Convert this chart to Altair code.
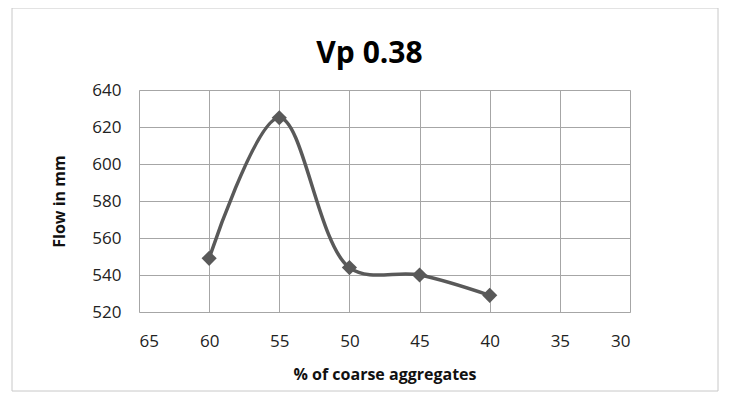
import altair as alt
import pandas as pd

coarse_pct = [60, 55, 50, 45, 40]
flow_mm = [549, 625, 544, 540, 529]
x_ticks = [65, 60, 55, 50, 45, 40, 35, 30]
y_ticks = [520, 540, 560, 580, 600, 620, 640]

df = pd.DataFrame({"pct": coarse_pct, "flow": flow_mm})

FONT = "Open Sans"
LINE = "#595959"

x = alt.X("pct:Q", title="% of coarse aggregates",
          scale=alt.Scale(domain=[30, 65], reverse=True, nice=False, zero=False),
          axis=alt.Axis(values=x_ticks, ticks=False, labelPadding=21, titlePadding=17,
                        gridColor="#a6a6a6", domain=False, labelFont=FONT, labelFontSize=17,
                        labelColor="#222222",
                        titleFont=FONT, titleFontSize=16, titleFontWeight="bold", titleColor="#111111"))
y = alt.Y("flow:Q", title="Flow in mm",
          scale=alt.Scale(domain=[520, 640], nice=False, zero=False),
          axis=alt.Axis(values=y_ticks, ticks=False, labelPadding=18, titlePadding=24,
                        gridColor="#a6a6a6", domain=False, labelFont=FONT, labelFontSize=17,
                        labelColor="#222222",
                        titleFont=FONT, titleFontSize=16, titleFontWeight="bold", titleColor="#111111"))

border = alt.Chart(pd.DataFrame({"a": [0]})).mark_rect(
    fillOpacity=0, stroke="#c8c8c8", strokeWidth=1
).encode(x=alt.value(-127), x2=alt.value(579), y=alt.value(-82), y2=alt.value(301))

line = alt.Chart(df).mark_line(interpolate="catmull-rom", color=LINE, strokeWidth=3.5).encode(x=x, y=y)
pts = alt.Chart(df).mark_point(shape="diamond", filled=True, size=230, color=LINE, opacity=1).encode(x=x, y=y)

chart = alt.layer(border, line, pts).properties(
    width=491, height=222,
    autosize=alt.AutoSizeParams(type="none"),
    padding={"left": 131, "top": 82, "right": 91, "bottom": 81},
    title=alt.TitleParams("Vp 0.38", fontSize=30, fontWeight="bold", font=FONT,
                          anchor="middle", dx=-15, offset=0, dy=61, color="#000000"),
).configure_view(stroke="#a6a6a6", strokeWidth=1).configure(background="white")

chart.save("out.html", embed_options={"renderer": "svg", "actions": False})
